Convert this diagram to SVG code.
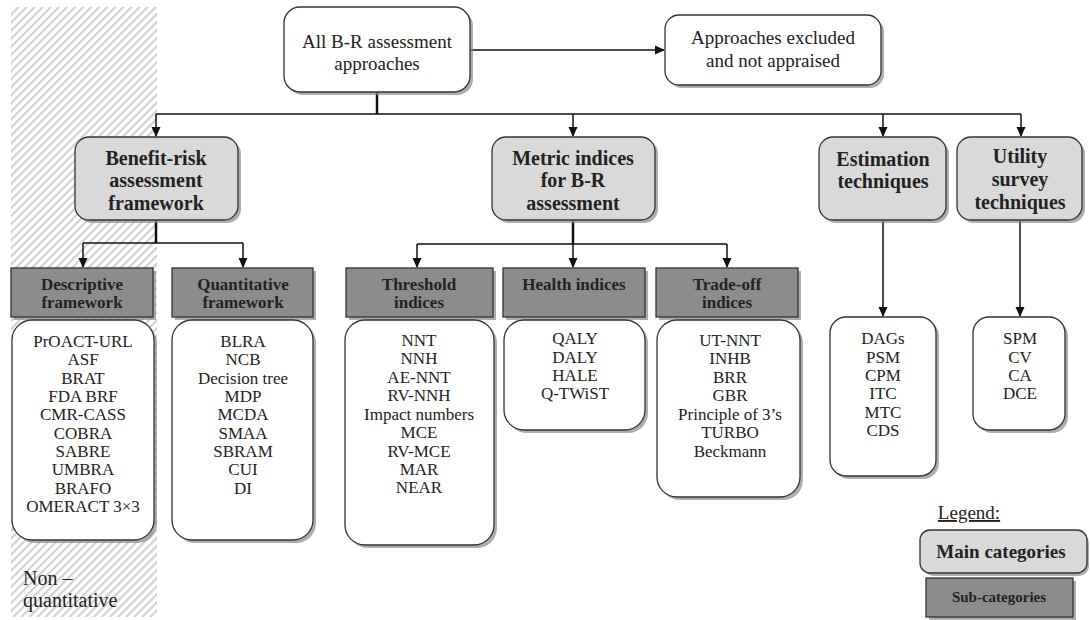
<svg xmlns="http://www.w3.org/2000/svg" width="1090" height="620" viewBox="0 0 1090 620">
<defs>
<pattern id="hatch" patternUnits="userSpaceOnUse" width="5.7" height="5.7" patternTransform="rotate(45)">
<rect width="5.7" height="5.7" fill="#ffffff"/>
<line x1="1" y1="0" x2="1" y2="5.7" stroke="#cfcfcf" stroke-width="2.2"/>
</pattern>
<marker id="arr" markerUnits="userSpaceOnUse" markerWidth="10" markerHeight="10" refX="9" refY="5" orient="auto">
<path d="M0,0.5 L10,5 L0,9.5 z" fill="#111"/>
</marker>
</defs>
<style>
.t{font-family:"Liberation Serif","Times New Roman",serif;fill:#222;text-anchor:middle}
.main{fill:#d9d9d9;stroke:#333;stroke-width:1.3}
.sub{fill:#8c8c8c;stroke:#333;stroke-width:1.3}
.wht{fill:#ffffff;stroke:#333;stroke-width:1.3}
.sh{fill:#8a8a8a;opacity:0.7}
.mt{font-size:20px;font-weight:bold}
.st{font-size:17px;font-weight:bold}
.lt{font-size:17px}
.bt{font-size:19px}
.c{fill:none;stroke:#111;stroke-width:1.5}
.ct{fill:none;stroke:#111;stroke-width:2.5}
</style>
<rect x="11" y="7" width="146" height="610" fill="url(#hatch)"/>
<text class="t" x="23" y="585" style="font-size:20px;text-anchor:start">Non –</text>
<text class="t" x="23" y="607" style="font-size:20px;text-anchor:start">quantitative</text>

<g id="connectors">
<line class="c" x1="470" y1="50" x2="664" y2="50" marker-end="url(#arr)"/>
<line class="ct" x1="377" y1="92" x2="377" y2="114"/>
<line class="c" x1="156" y1="114" x2="1021" y2="114"/>
<line class="c" x1="156" y1="114" x2="156" y2="136" marker-end="url(#arr)"/>
<line class="c" x1="573" y1="114" x2="573" y2="136" marker-end="url(#arr)"/>
<line class="c" x1="883" y1="114" x2="883" y2="136" marker-end="url(#arr)"/>
<line class="c" x1="1021" y1="114" x2="1021" y2="136" marker-end="url(#arr)"/>
<line class="ct" x1="156" y1="221" x2="156" y2="243"/>
<line class="c" x1="83" y1="243" x2="243" y2="243"/>
<line class="c" x1="83" y1="243" x2="83" y2="267" marker-end="url(#arr)"/>
<line class="c" x1="243" y1="243" x2="243" y2="267" marker-end="url(#arr)"/>
<line class="ct" x1="573" y1="221" x2="573" y2="244"/>
<line class="c" x1="417" y1="244" x2="727" y2="244"/>
<line class="c" x1="417" y1="244" x2="417" y2="267" marker-end="url(#arr)"/>
<line class="c" x1="573" y1="244" x2="573" y2="267" marker-end="url(#arr)"/>
<line class="c" x1="727" y1="244" x2="727" y2="267" marker-end="url(#arr)"/>
<line class="c" x1="883" y1="221" x2="883" y2="316" marker-end="url(#arr)"/>
<line class="c" x1="1020" y1="221" x2="1020" y2="316" marker-end="url(#arr)"/>
</g>

<g id="all-approaches">
<rect class="sh" x="287" y="10" width="186" height="85" rx="16"/>
<rect class="wht" x="284" y="7" width="186" height="85" rx="16"/>
<text class="t bt" x="377" y="48">All B-R assessment</text>
<text class="t bt" x="377" y="70">approaches</text>
</g>
<g id="excluded">
<rect class="sh" x="668" y="18" width="216" height="70" rx="14"/>
<rect class="wht" x="665" y="15" width="216" height="70" rx="14"/>
<text class="t bt" x="773" y="44">Approaches excluded</text>
<text class="t bt" x="773" y="67">and not appraised</text>
</g>

<g id="benefit-risk">
<rect class="sh" x="78" y="140" width="163" height="83" rx="14"/>
<rect class="main" x="75" y="137" width="163" height="83" rx="14"/>
<text class="t mt" x="156" y="165">Benefit-risk</text>
<text class="t mt" x="156" y="187">assessment</text>
<text class="t mt" x="156" y="210">framework</text>
</g>
<g id="metric">
<rect class="sh" x="495" y="140" width="163" height="83" rx="14"/>
<rect class="main" x="492" y="137" width="163" height="83" rx="14"/>
<text class="t mt" x="573" y="165">Metric indices</text>
<text class="t mt" x="573" y="187">for B-R</text>
<text class="t mt" x="573" y="210">assessment</text>
</g>
<g id="estimation">
<rect class="sh" x="822" y="140" width="127" height="83" rx="14"/>
<rect class="main" x="819" y="137" width="127" height="83" rx="14"/>
<text class="t mt" x="883" y="166">Estimation</text>
<text class="t mt" x="883" y="188">techniques</text>
</g>
<g id="utility">
<rect class="sh" x="960" y="140" width="125" height="83" rx="14"/>
<rect class="main" x="957" y="137" width="125" height="83" rx="14"/>
<text class="t mt" x="1020" y="163">Utility</text>
<text class="t mt" x="1020" y="186">survey</text>
<text class="t mt" x="1020" y="209">techniques</text>
</g>

<g id="descriptive">
<rect class="sh" x="14" y="271" width="142" height="49"/>
<rect class="sub" x="11" y="268" width="142" height="49"/>
<text class="t st" x="82" y="290">Descriptive</text>
<text class="t st" x="82" y="308">framework</text>
<rect class="sh" x="15" y="323" width="142" height="220" rx="20"/>
<rect class="wht" x="12" y="320" width="142" height="220" rx="20"/>
<text class="t lt" x="83" y="347">PrOACT-URL</text>
<text class="t lt" x="83" y="365">ASF</text>
<text class="t lt" x="83" y="384">BRAT</text>
<text class="t lt" x="83" y="402">FDA BRF</text>
<text class="t lt" x="83" y="420">CMR-CASS</text>
<text class="t lt" x="83" y="439">COBRA</text>
<text class="t lt" x="83" y="457">SABRE</text>
<text class="t lt" x="83" y="475">UMBRA</text>
<text class="t lt" x="83" y="494">BRAFO</text>
<text class="t lt" x="83" y="512">OMERACT 3×3</text>
</g>
<g id="quantitative">
<rect class="sh" x="175" y="271" width="141" height="49"/>
<rect class="sub" x="172" y="268" width="141" height="49"/>
<text class="t st" x="243" y="290">Quantitative</text>
<text class="t st" x="243" y="308">framework</text>
<rect class="sh" x="175" y="323" width="141" height="220" rx="20"/>
<rect class="wht" x="172" y="320" width="141" height="220" rx="20"/>
<text class="t lt" x="243" y="347">BLRA</text>
<text class="t lt" x="243" y="365">NCB</text>
<text class="t lt" x="243" y="384">Decision tree</text>
<text class="t lt" x="243" y="402">MDP</text>
<text class="t lt" x="243" y="420">MCDA</text>
<text class="t lt" x="243" y="439">SMAA</text>
<text class="t lt" x="243" y="457">SBRAM</text>
<text class="t lt" x="243" y="475">CUI</text>
<text class="t lt" x="243" y="494">DI</text>
</g>

<g id="threshold">
<rect class="sh" x="349" y="271" width="147" height="49"/>
<rect class="sub" x="346" y="268" width="147" height="49"/>
<text class="t st" x="419" y="290">Threshold</text>
<text class="t st" x="419" y="308">indices</text>
<rect class="sh" x="348" y="323" width="149" height="225" rx="20"/>
<rect class="wht" x="345" y="320" width="149" height="225" rx="20"/>
<text class="t lt" x="419" y="346">NNT</text>
<text class="t lt" x="419" y="364">NNH</text>
<text class="t lt" x="419" y="383">AE-NNT</text>
<text class="t lt" x="419" y="401">RV-NNH</text>
<text class="t lt" x="419" y="420">Impact numbers</text>
<text class="t lt" x="419" y="438">MCE</text>
<text class="t lt" x="419" y="457">RV-MCE</text>
<text class="t lt" x="419" y="475">MAR</text>
<text class="t lt" x="419" y="493">NEAR</text>
</g>
<g id="health">
<rect class="sh" x="506" y="271" width="142" height="49"/>
<rect class="sub" x="503" y="268" width="142" height="49"/>
<text class="t st" x="574" y="290">Health indices</text>
<rect class="sh" x="507" y="323" width="141" height="110" rx="20"/>
<rect class="wht" x="504" y="320" width="141" height="110" rx="20"/>
<text class="t lt" x="575" y="344">QALY</text>
<text class="t lt" x="575" y="363">DALY</text>
<text class="t lt" x="575" y="381">HALE</text>
<text class="t lt" x="575" y="399">Q-TWiST</text>
</g>
<g id="tradeoff">
<rect class="sh" x="659" y="271" width="142" height="49"/>
<rect class="sub" x="656" y="268" width="142" height="49"/>
<text class="t st" x="727" y="290">Trade-off</text>
<text class="t st" x="727" y="308">indices</text>
<rect class="sh" x="660" y="323" width="143" height="177" rx="20"/>
<rect class="wht" x="657" y="320" width="143" height="177" rx="20"/>
<text class="t lt" x="730" y="346">UT-NNT</text>
<text class="t lt" x="730" y="364">INHB</text>
<text class="t lt" x="730" y="383">BRR</text>
<text class="t lt" x="730" y="401">GBR</text>
<text class="t lt" x="730" y="420">Principle of 3’s</text>
<text class="t lt" x="730" y="438">TURBO</text>
<text class="t lt" x="730" y="457">Beckmann</text>
</g>

<g id="estimation-list">
<rect class="sh" x="833" y="320" width="106" height="159" rx="16"/>
<rect class="wht" x="830" y="317" width="106" height="159" rx="16"/>
<text class="t lt" x="883" y="344">DAGs</text>
<text class="t lt" x="883" y="363">PSM</text>
<text class="t lt" x="883" y="381">CPM</text>
<text class="t lt" x="883" y="399">ITC</text>
<text class="t lt" x="883" y="418">MTC</text>
<text class="t lt" x="883" y="436">CDS</text>
</g>
<g id="utility-list">
<rect class="sh" x="976" y="320" width="92" height="113" rx="16"/>
<rect class="wht" x="973" y="317" width="92" height="113" rx="16"/>
<text class="t lt" x="1020" y="344">SPM</text>
<text class="t lt" x="1020" y="363">CV</text>
<text class="t lt" x="1020" y="381">CA</text>
<text class="t lt" x="1020" y="399">DCE</text>
</g>

<g id="legend">
<text class="t" x="969" y="519" style="font-size:19px;text-decoration:underline">Legend:</text>
<rect class="sh" x="923" y="533" width="166" height="43" rx="10"/>
<rect class="main" x="920" y="530" width="167" height="43" rx="10"/>
<text class="t" x="1001" y="558" style="font-size:19px;font-weight:bold">Main categories</text>
<rect class="sh" x="929" y="581" width="147" height="39"/>
<rect class="sub" x="926" y="578" width="147" height="39"/>
<text class="t" x="999" y="602" style="font-size:15px;font-weight:bold">Sub-categories</text>
</g>
</svg>
